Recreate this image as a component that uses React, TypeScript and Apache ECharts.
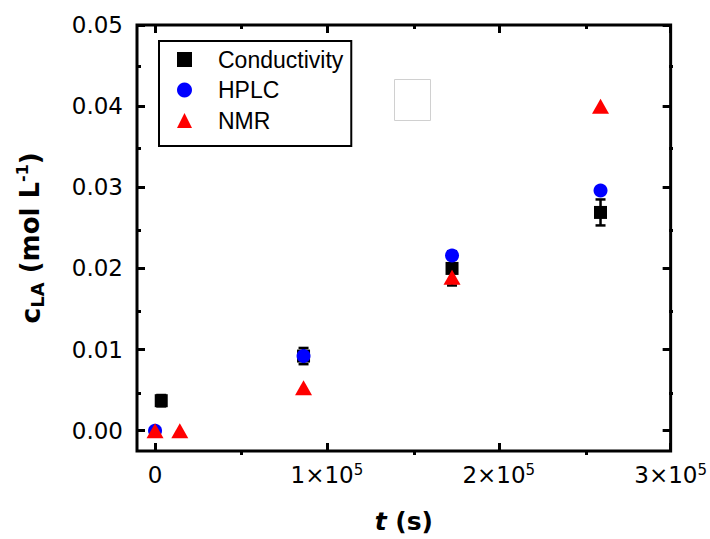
import React, { useEffect, useRef } from "react";
import * as echarts from "echarts";

// ---- data ----
const condT = [3600, 86400, 172800, 259200];
const condC = [0.0037, 0.0092, 0.02, 0.0269];
const condErr = [0.0007, 0.001, 0.0021, 0.0016];

const hplcT = [0, 86400, 172800, 259200];
const hplcC = [0, 0.0092, 0.0216, 0.0296];

const nmrT = [0, 14400, 86400, 172800, 259200];
const nmrC = [0, 0, 0.0053, 0.0189, 0.04];

const legendNames = ["Conductivity", "HPLC", "NMR"];
const xMajorTicks = [0, 100000, 200000, 300000];
const xMinorTicks = [50000, 150000, 250000];
const yMajorTicks = [0, 0.01, 0.02, 0.03, 0.04, 0.05];
const yMinorTicks = [0.005, 0.015, 0.025, 0.035, 0.045];

// ---- layout ----
const W = 710;
const H = 539;
const BOX_L = 137;
const BOX_R = 673;
const BOX_T = 25;
const BOX_B = 455;
const X_MIN = -10500;
const X_MAX = 300000;
const Y_MIN = -0.0025;
const Y_MAX = 0.05;

const FONT = "DejaVu Sans";

export default function App() {
  const ref = useRef<HTMLDivElement>(null);
  useEffect(() => {
    if (!ref.current) return;
    const chart = echarts.init(ref.current, null, { renderer: "svg" });

    const gridRect = { left: BOX_L, right: W - BOX_R, top: BOX_T, bottom: H - BOX_B };

    const mkX = (gridIndex: number, position: string, ticks: number[], len: number, labels: boolean, extra: any = {}) => ({
      type: "value",
      gridIndex,
      position,
      min: X_MIN,
      max: X_MAX,
      axisLine: { show: false, onZero: false },
      splitLine: { show: false },
      axisTick: { show: true, inside: true, length: len, customValues: ticks, lineStyle: { color: "#000", width: 3 } },
      axisLabel: labels
        ? {
            show: true,
            margin: 11,
            customValues: ticks,
            formatter: (v: number) => (v === 0 ? "{b|0}" : `{b|${Math.round(v / 100000)}×10}{s|5}`),
            rich: {
              b: { fontFamily: FONT, fontSize: 23, color: "#000", lineHeight: 26 },
              s: { fontFamily: FONT, fontSize: 15, color: "#000", lineHeight: 15, verticalAlign: "top" },
            },
          }
        : { show: false },
      ...extra,
    });

    const mkY = (gridIndex: number, position: string, ticks: number[], len: number, labels: boolean, extra: any = {}) => ({
      type: "value",
      gridIndex,
      position,
      min: Y_MIN,
      max: Y_MAX,
      axisLine: { show: false, onZero: false },
      splitLine: { show: false },
      axisTick: { show: true, inside: true, length: len, customValues: ticks, lineStyle: { color: "#000", width: 3 } },
      axisLabel: labels
        ? {
            show: true,
            margin: 14,
            customValues: ticks,
            fontFamily: FONT,
            fontSize: 23,
            color: "#000",
            formatter: (v: number) => v.toFixed(2),
          }
        : { show: false },
      ...extra,
    });

    const option: any = {
      animation: false,
      backgroundColor: "#fff",
      grid: [
        { ...gridRect, show: true, borderColor: "#000", borderWidth: 3, backgroundColor: "transparent", z: 10 },
        { ...gridRect, show: false },
      ],
      xAxis: [
        mkX(0, "bottom", xMajorTicks, 8, true, {
          name: "{t|t}{m| (s)}",
          nameLocation: "middle",
          nameGap: 58,
          nameTextStyle: {
            rich: {
              t: { fontFamily: FONT, fontSize: 25, fontWeight: "bold", fontStyle: "italic", color: "#000" },
              m: { fontFamily: FONT, fontSize: 25, fontWeight: "bold", color: "#000" },
            },
          },
        }),
        mkX(0, "top", xMajorTicks, 8, false),
        mkX(1, "bottom", xMinorTicks, 4, false),
        mkX(1, "top", xMinorTicks, 4, false),
      ],
      yAxis: [
        mkY(0, "left", yMajorTicks, 8, true, {
          name: "{c|c}{sub|LA}{m| (mol L}{sup|-1}{m|)}",
          nameLocation: "middle",
          nameRotate: 90,
          nameGap: 91,
          nameTextStyle: {
            rich: {
              c: { fontFamily: FONT, fontSize: 27, fontWeight: "bold", color: "#000", lineHeight: 32 },
              sub: { fontFamily: FONT, fontSize: 18, fontWeight: "bold", color: "#000", lineHeight: 18, verticalAlign: "bottom" },
              m: { fontFamily: FONT, fontSize: 26, fontWeight: "bold", color: "#000", lineHeight: 32 },
              sup: { fontFamily: FONT, fontSize: 16, fontWeight: "bold", color: "#000", lineHeight: 16, verticalAlign: "top" },
            },
          },
        }),
        mkY(0, "right", yMajorTicks, 8, false),
        mkY(1, "left", yMinorTicks, 4, false),
        mkY(1, "right", yMinorTicks, 4, false),
      ],
      legend: {
        data: legendNames,
        orient: "vertical",
        left: 159,
        top: 41,
        borderColor: "#000",
        borderWidth: 2,
        padding: [7, 8, 14, 18],
        itemWidth: 15,
        itemHeight: 15,
        itemGap: 7.5,
        textStyle: {
          fontFamily: "Liberation Sans",
          fontSize: 23,
          color: "#000",
          lineHeight: 22,
          padding: [0, 0, 0, 21],
        },
      },
      graphic: [
        {
          type: "rect",
          shape: { x: 394.5, y: 79.5, width: 36, height: 41 },
          style: { fill: "#fff", stroke: "#d0d0d0", lineWidth: 1 },
          z: 5,
        },
      ],
      series: [
        {
          name: "Conductivity error",
          type: "custom",
          xAxisIndex: 0,
          yAxisIndex: 0,
          data: condT.map((t, i) => [t, condC[i] - condErr[i], condC[i] + condErr[i]]),
          encode: { x: 0, y: [1, 2] },
          renderItem: (params: any, api: any) => {
            const x = api.value(0);
            const lo = api.coord([x, api.value(1)]);
            const hi = api.coord([x, api.value(2)]);
            const w = 5;
            const st = { stroke: "#000", lineWidth: 2.5 };
            return {
              type: "group",
              children: [
                { type: "line", shape: { x1: lo[0], y1: lo[1], x2: hi[0], y2: hi[1] }, style: st },
                { type: "line", shape: { x1: lo[0] - w, y1: lo[1], x2: lo[0] + w, y2: lo[1] }, style: st },
                { type: "line", shape: { x1: hi[0] - w, y1: hi[1], x2: hi[0] + w, y2: hi[1] }, style: st },
              ],
            };
          },
          z: 2,
        },
        {
          name: "Conductivity",
          type: "scatter",
          xAxisIndex: 0,
          yAxisIndex: 0,
          symbol: "rect",
          symbolSize: 13,
          itemStyle: { color: "#000", opacity: 1 },
          data: condT.map((t, i) => [t, condC[i]]),
          z: 3,
        },
        {
          name: "HPLC",
          type: "scatter",
          xAxisIndex: 0,
          yAxisIndex: 0,
          symbol: "circle",
          symbolSize: 14,
          itemStyle: { color: "#0000ff", opacity: 1 },
          data: hplcT.map((t, i) => [t, hplcC[i]]),
          z: 4,
        },
        {
          name: "NMR",
          type: "scatter",
          xAxisIndex: 0,
          yAxisIndex: 0,
          symbol: "triangle",
          symbolSize: [17, 15],
          itemStyle: { color: "#ff0000", opacity: 1 },
          data: nmrT.map((t, i) => [t, nmrC[i]]),
          z: 5,
        },
      ],
    };

    chart.setOption(option);
    return () => chart.dispose();
  }, []);

  return (
    <div
      ref={ref}
      style={{ position: "fixed", left: 0, top: 0, width: W, height: H, background: "#fff" }}
    />
  );
}
